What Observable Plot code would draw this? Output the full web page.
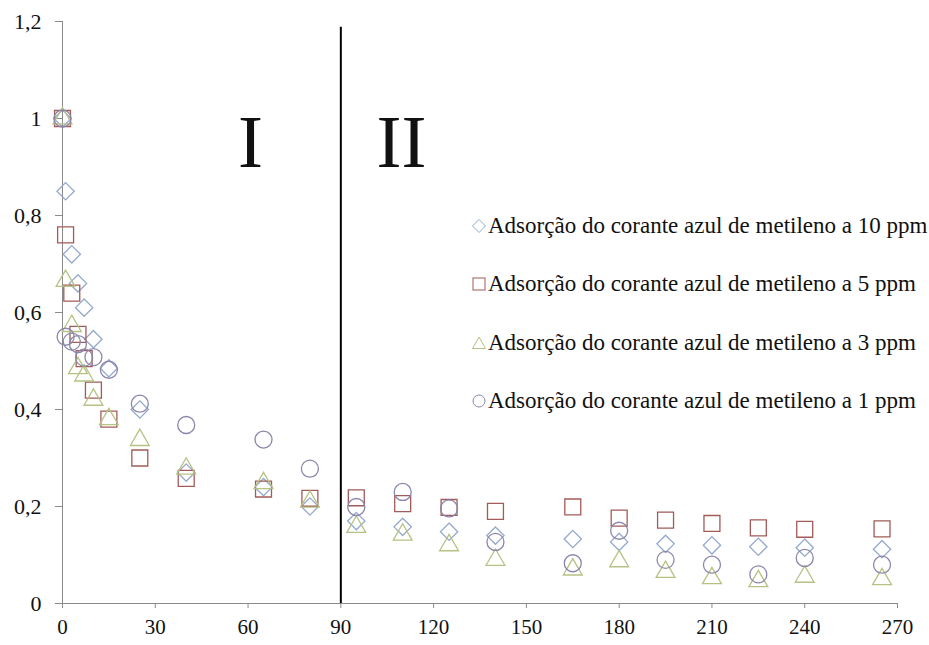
<!DOCTYPE html>
<html><head><meta charset="utf-8">
<script src="https://cdn.jsdelivr.net/npm/d3@7"></script>
<script src="https://cdn.jsdelivr.net/npm/@observablehq/plot@0.6"></script>
<style>
body{margin:0;background:#fff;}
#chart{position:relative;width:929px;height:645px;overflow:hidden;font-family:"Liberation Serif","Times New Roman",serif;}
#legend{position:absolute;left:471px;top:197px;}
.row{height:58.3px;display:flex;align-items:center;font-size:23px;white-space:nowrap;color:#111;}
.row svg{margin-right:1px;}
</style></head><body><div id="chart"><div id="legend"></div></div>
<script>
const times = [0,1,3,5,7,10,15,25,40,65,80,95,110,125,140,165,180,195,210,225,240,265];
const ppm10 = [1.0,0.85,0.72,0.66,0.61,0.545,0.485,0.40,0.27,0.24,0.20,0.17,0.158,0.148,0.14,0.133,0.127,0.123,0.12,0.117,0.115,0.112];
const ppm5  = [1.0,0.76,0.64,0.555,0.505,0.44,0.38,0.30,0.258,0.236,0.217,0.218,0.206,0.198,0.19,0.199,0.176,0.172,0.165,0.156,0.153,0.154];
const ppm3  = [1.0,0.665,0.572,0.485,0.47,0.42,0.38,0.337,0.278,0.248,0.21,0.158,0.142,0.12,0.09,0.07,0.087,0.065,0.052,0.046,0.055,0.05];
const ppm1  = [1.0,0.55,0.54,0.535,0.507,0.508,0.482,0.412,0.368,0.338,0.278,0.199,0.23,0.196,0.127,0.083,0.15,0.09,0.08,0.06,0.094,0.08];
const seriesNames = [
  "Adsorção do corante azul de metileno a 10 ppm",
  "Adsorção do corante azul de metileno a 5 ppm",
  "Adsorção do corante azul de metileno a 3 ppm",
  "Adsorção do corante azul de metileno a 1 ppm"
];
const seriesSymbols = ["diamond2","square","triangle","circle"];
const seriesColors = ["#93a9cc","#a25b59","#b6c283","#8b86ab"];
const seriesR = [7.8,9,7,8.5];
const xTicks = [0,30,60,90,120,150,180,210,240,270];
const yTicks = [0,0.2,0.4,0.6,0.8,1,1.2];
const dividerX = [90];
const regionLabels = [{label:"I", x:60.8, y:0.95},{label:"II", x:109.6, y:0.95}];

const seriesValues = [ppm10, ppm5, ppm3, ppm1];
const rows = seriesValues.map((vals,i)=>times.map((t,j)=>({t, v:vals[j], s:seriesNames[i]})));

const fmt = d => String(d).replace(".", ",");

const plot = Plot.plot({
  width: 929, height: 645,
  marginLeft: 62, marginRight: 32, marginTop: 21, marginBottom: 42,
  style: {fontFamily: '"Liberation Serif","Times New Roman",serif', fontSize: "22px", background: "white", color: "#111"},
  x: {domain: [0,270]},
  y: {domain: [0,1.2]},
  marks: [
    Plot.ruleY([0], {stroke: "#8a8a8a"}),
    Plot.ruleX([0], {stroke: "#8a8a8a"}),
    Plot.axisY({ticks: yTicks, tickFormat: fmt, tickSize: 7, tickPadding: 14, stroke: "#8a8a8a", fill: "#111", fontSize: 22}),
    Plot.axisX({ticks: xTicks, tickFormat: d => String(d), tickSize: 5, tickPadding: 11, stroke: "#8a8a8a", fill: "#111", fontSize: 21}),
    Plot.ruleX(dividerX, {y1: 0, y2: 1.188, stroke: "black", strokeWidth: 2}),
    Plot.text(regionLabels, {x: "x", y: "y", text: "label", fontSize: 75, fill: "#111"}),
    ...rows.map((r,i) => Plot.dot(r, {x: "t", y: "v", symbol: seriesSymbols[i], r: seriesR[i], stroke: seriesColors[i], fill: "none", strokeWidth: 1.3}))
  ]
});
document.getElementById("chart").prepend(plot);

const legend = document.getElementById("legend");
const shapes = [
  c => `<polygon points="8,1.5 14.5,8 8,14.5 1.5,8" fill="none" stroke="${c}" stroke-width="1"/>`,
  c => `<rect x="2" y="2" width="12" height="12" fill="none" stroke="${c}" stroke-width="1"/>`,
  c => `<polygon points="8,2 14.5,13.5 1.5,13.5" fill="none" stroke="${c}" stroke-width="1"/>`,
  c => `<circle cx="8" cy="8" r="6" fill="none" stroke="${c}" stroke-width="1"/>`
];
seriesNames.forEach((n,i)=>{
  const d = document.createElement("div");
  d.className = "row";
  d.innerHTML = `<svg width="16" height="16">${shapes[i](seriesColors[i])}</svg><span>${n}</span>`;
  legend.appendChild(d);
});
</script>
</body></html>
